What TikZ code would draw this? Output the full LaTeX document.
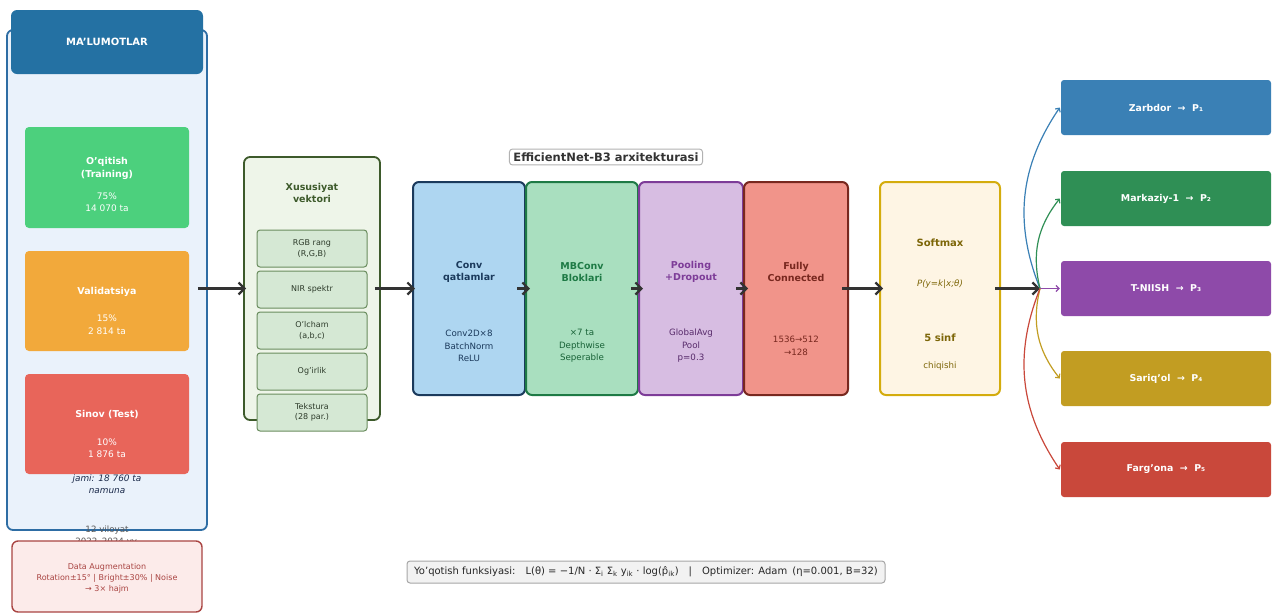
\documentclass[tikz,border=0pt]{standalone}
\usepackage{fontspec}
\setmainfont{DejaVu Sans}
\usetikzlibrary{arrows.meta}
\definecolor{hdrblue}{HTML}{2471A3}
\definecolor{dataedge}{HTML}{2E6DA4}
\definecolor{datafill}{HTML}{EAF2FB}
\definecolor{trgreen}{HTML}{4CD07D}
\definecolor{valorange}{HTML}{F2A93B}
\definecolor{testred}{HTML}{E8655A}
\definecolor{augfill}{HTML}{FCEBEA}
\definecolor{augedge}{HTML}{A94442}
\definecolor{featfill}{HTML}{EEF5E9}
\definecolor{featedge}{HTML}{3D5A2B}
\definecolor{subfill}{HTML}{D5E8D4}
\definecolor{subedge}{HTML}{6A8D5E}
\definecolor{subtext}{HTML}{2D3B2A}
\definecolor{convfill}{HTML}{AED6F1}
\definecolor{convedge}{HTML}{1B3A5C}
\definecolor{mbfill}{HTML}{A9DFBF}
\definecolor{mbedge}{HTML}{1E7A45}
\definecolor{poolfill}{HTML}{D7BDE2}
\definecolor{pooledge}{HTML}{7D3C98}
\definecolor{fcfill}{HTML}{F1948A}
\definecolor{fcedge}{HTML}{78281F}
\definecolor{softfill}{HTML}{FEF5E4}
\definecolor{softedge}{HTML}{D4AC0D}
\definecolor{softtext}{HTML}{7D6608}
\definecolor{cA}{HTML}{3A80B5}
\definecolor{cB}{HTML}{2F8F55}
\definecolor{cC}{HTML}{8E4AA9}
\definecolor{cD}{HTML}{C29D22}
\definecolor{cE}{HTML}{C9483B}
\definecolor{arr}{HTML}{333333}
\definecolor{jamitext}{HTML}{1B2A4A}
\begin{document}
\begin{tikzpicture}[x=1pt,y=-1pt,
  box/.style={rounded corners=6pt,inner sep=0pt},
  sz/.style 2 args={minimum width=#1pt,minimum height=#2pt},
  small/.style={font=\fontsize{8.7}{12.5}\selectfont,align=center,inner sep=0pt},
  bold/.style={font=\fontsize{9.5}{12.5}\selectfont\bfseries,align=center,inner sep=0pt},
  mainarrow/.style={draw=arr,line width=2.2pt,-{Straight Barb[length=6pt,width=12pt]}},
  thinarrow/.style={line width=1.2pt,-{Straight Barb[length=3pt,width=6pt]}},
  clsbox/.style={box,rounded corners=3pt,text=white,font=\fontsize{9.4}{11}\selectfont\bfseries,sz={210}{55}}
]
\useasboundingbox (0,0) rectangle (1272,614);

% ---------------- data column ----------------
\node[box,draw=dataedge,fill=datafill,line width=1.8pt,sz={200}{500}] (data) at (107,280) {};
\node[box,fill=hdrblue,text=white,font=\fontsize{10}{12}\selectfont\bfseries,sz={192}{64}] (hdr) at (107,42) {MA'LUMOTLAR};
\node[small,text=jamitext,font=\fontsize{8.9}{12.5}\selectfont\itshape] (jami) at (107,484) {jami: 18 760 ta\\namuna};
\node[small,text=black!65] (vil) at (107,536) {12 viloyat\\2022–2024 yy.};

\node[box,rounded corners=4pt,fill=trgreen,sz={164}{101}] (train) at (107,177.5) {};
\node[bold,text=white] (trainT) at (107,168.5) {O'qitish\\(Training)};
\node[small,text=white,font=\fontsize{9}{12.5}\selectfont] (trainD) at (107,202) {75\%\\14 070 ta};

\node[box,rounded corners=4pt,fill=valorange,sz={164}{100}] (val) at (107,301) {};
\node[bold,text=white] (valT) at (107,292) {Validatsiya};
\node[small,text=white,font=\fontsize{9}{12.5}\selectfont] (valD) at (107,324.5) {15\%\\2 814 ta};

\node[box,rounded corners=4pt,fill=testred,sz={164}{100}] (test) at (107,424) {};
\node[bold,text=white] (testT) at (107,415) {Sinov (Test)};
\node[small,text=white,font=\fontsize{9}{12.5}\selectfont] (testD) at (107,448) {10\%\\1 876 ta};

\node[box,draw=augedge,fill=augfill,line width=1.4pt,sz={190}{71}] (aug) at (107,576.5) {};
\node[small,text=augedge,font=\fontsize{8}{11}\selectfont] (augT) at (107,578) {Data Augmentation\\Rotation±15° | Bright±30\% | Noise\\→ 3× hajm};

% ---------------- feature vector ----------------
\node[box,draw=featedge,fill=featfill,line width=1.8pt,sz={136}{263}] (feat) at (312,288.5) {};
\node[bold,text=featedge] (featT) at (312,193) {Xususiyat\\vektori};
\foreach \n/\y/\t in {f1/248.5/{RGB rang\\(R,G,B)}, f2/289.5/{NIR spektr}, f3/330.5/{O'lcham\\(a,b,c)}, f4/371.5/{Og'irlik}, f5/412.5/{Tekstura\\(28 par.)}}{
  \node[box,rounded corners=3pt,draw=subedge,fill=subfill,line width=1pt,sz={110}{37},small,text=subtext,font=\fontsize{8}{10.5}\selectfont] (\n) at (312,\y) {\t};
}

% ---------------- EfficientNet ----------------
\node[draw=black!30,fill=white,rounded corners=3pt,line width=1pt,inner xsep=4pt,inner ysep=3.5pt,font=\fontsize{11.5}{13}\selectfont\bfseries,text=black!80] (title) at (606,157) {EfficientNet-B3 arxitekturasi};

\node[box,draw=convedge,fill=convfill,line width=2pt,sz={112}{213}] (conv) at (469,288.5) {};
\node[bold,text=convedge] (convT) at (469,272) {Conv\\qatlamlar};
\node[small,text=convedge] (convD) at (469,346) {Conv2D×8\\BatchNorm\\ReLU};

\node[box,draw=mbedge,fill=mbfill,line width=2pt,sz={112}{213}] (mb) at (582,288.5) {};
\node[bold,text=mbedge] (mbT) at (582,272) {MBConv\\Bloklari};
\node[small,text=mbedge!80!black] (mbD) at (582,346) {×7 ta\\Depthwise\\Seperable};

\node[box,draw=pooledge,fill=poolfill,line width=2pt,sz={104}{213}] (pool) at (691,288.5) {};
\node[bold,text=pooledge] (poolT) at (691,272) {Pooling\\+Dropout};
\node[small,text=pooledge!70!black] (poolD) at (691,346) {GlobalAvg\\Pool\\p=0.3};

\node[box,draw=fcedge,fill=fcfill,line width=2pt,sz={104}{213}] (fc) at (796,288.5) {};
\node[bold,text=fcedge] (fcT) at (796,272) {Fully\\Connected};
\node[small,text=fcedge] (fcD) at (796,346) {1536→512\\→128};

% ---------------- softmax ----------------
\node[box,draw=softedge,fill=softfill,line width=2pt,sz={120}{213}] (soft) at (940,288.5) {};
\node[bold,text=softtext,font=\fontsize{10}{12.5}\selectfont\bfseries] (softT) at (940,243) {Softmax};
\node[small,text=softtext,font=\fontsize{8.7}{12.5}\selectfont\itshape] (softP) at (940,284) {P(y=k|x;θ)};
\node[bold,text=softtext,font=\fontsize{10}{12.5}\selectfont\bfseries] (softN) at (940,338) {5 sinf};
\node[small,text=softtext] (softC) at (940,366) {chiqishi};

% ---------------- classes ----------------
\node[clsbox,fill=cA] (zar) at (1166,107.5) {Zarbdor \ → \ P₁};
\node[clsbox,fill=cB] (mar) at (1166,198.5) {Markaziy-1 \ → \ P₂};
\node[clsbox,fill=cC] (tni) at (1166,288.5) {T-NIISH \ → \ P₃};
\node[clsbox,fill=cD] (sar) at (1166,378.5) {Sariq'ol \ → \ P₄};
\node[clsbox,fill=cE] (far) at (1166,469.5) {Farg'ona \ → \ P₅};

\coordinate (hub) at (1040,288.5);

% ---------------- loss ----------------
\node[draw=black!35,fill=black!5,rounded corners=3pt,line width=1pt,minimum width=478pt,minimum height=22pt,inner sep=0pt,font=\fontsize{10}{11}\selectfont,text=black!85] (loss) at (646,572)
 {Yo'qotish funksiyasi:\quad L(θ) = −1/N · Σ\textsubscript{i} Σ\textsubscript{k} y\textsubscript{ik} · log(\^{p}\textsubscript{ik})\quad|\quad Optimizer: Adam\enspace(η=0.001, B=32)};

% ---------------- arrows ----------------
\draw[mainarrow] ([xshift=-10pt]data.east |- feat.west) -- ([xshift=3pt]feat.west);
\draw[mainarrow] ([xshift=-6pt]feat.east) -- ([xshift=3pt]conv.west);
\draw[mainarrow] ([xshift=-9pt]conv.east) -- ([xshift=5pt]mb.west);
\draw[mainarrow] ([xshift=-8pt]mb.east) -- ([xshift=5pt]pool.west);
\draw[mainarrow] ([xshift=-8pt]pool.east) -- ([xshift=5pt]fc.west);
\draw[mainarrow] ([xshift=-7pt]fc.east) -- ([xshift=4pt]soft.west);
\draw[mainarrow] ([xshift=-6pt]soft.east) -- (hub);

\draw[thinarrow,draw=cA] (hub) to[bend left=28] ([xshift=-1pt]zar.west);
\draw[thinarrow,draw=cB] (hub) to[bend left=26] ([xshift=-1pt]mar.west);
\draw[thinarrow,draw=cC] (hub) -- ([xshift=-1pt]tni.west);
\draw[thinarrow,draw=cD] (hub) to[bend right=26] ([xshift=-1pt]sar.west);
\draw[thinarrow,draw=cE] (hub) to[bend right=28] ([xshift=-1pt]far.west);
\end{tikzpicture}
\end{document}
